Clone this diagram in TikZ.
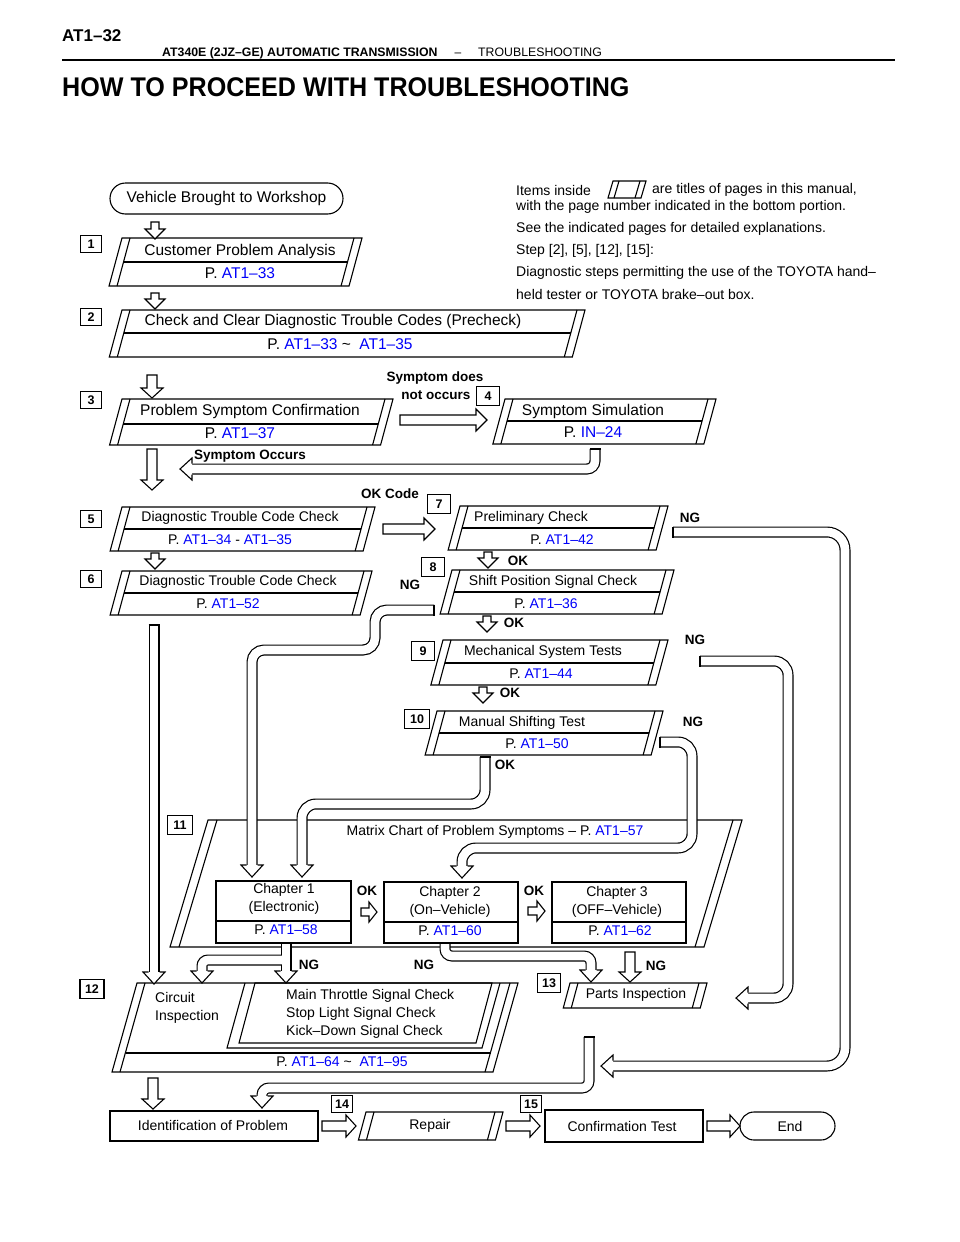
\documentclass[tikz,border=0pt]{standalone}
\usepackage{fontspec}
\setmainfont{Liberation Sans}
\definecolor{pblue}{RGB}{0,0,250}
\newcommand\pref[1]{\textcolor{pblue}{#1}}
% slanted step box: name, xl, xr, ytop, ybot, ydivider (0 = none)
\newcommand\pbox[6]{%
 \pgfmathsetmacro\pbS{0.27*(#5-#4)}%
 \draw[ln] (#2,#4) -- (#3,#4) -- ({#3-\pbS},#5) -- ({#2-\pbS},#5) -- cycle;
 \draw[ln] ({#2+8},#4) -- ({#2+8-\pbS},#5);
 \draw[ln] ({#3-8},#4) -- ({#3-8-\pbS},#5);
 \ifnum#6>0
 \pgfmathsetmacro\pbD{0.27*(#6-#4)}%
 \draw[ln] ({#2+8-\pbD},#6) -- ({#3-8-\pbD},#6);
 \fi
 \coordinate (#1) at ({(#2+#3)/2-\pbS/2},{(#4+#5)/2});
}
% hollow block arrows
\newcommand\dArrow[4]{% x, ytop, ybot, half shaft
 \draw[blk] ({#1-#4},#2) -- ({#1+#4},#2) -- ({#1+#4},{#3-10}) -- ({#1+#4+6},{#3-10}) -- (#1,#3) -- ({#1-#4-6},{#3-10}) -- ({#1-#4},{#3-10}) -- cycle;}
\newcommand\rArrow[5]{% xl, xr, y, half shaft, head length
 \draw[blk] (#1,{#3-#4}) -- ({#2-#5},{#3-#4}) -- ({#2-#5},{#3-#4-6}) -- (#2,#3) -- ({#2-#5},{#3+#4+6}) -- ({#2-#5},{#3+#4}) -- (#1,{#3+#4}) -- cycle;}
% pipe heads
\newcommand\pHeadD[2]{\draw[blk] ({#1-5.5},#2) -- ({#1-11},#2) -- (#1,{#2+12}) -- ({#1+11},#2) -- ({#1+5.5},#2);}
\newcommand\pHeadL[2]{\draw[blk] (#1,{#2-5.5}) -- (#1,{#2-11}) -- ({#1-12},#2) -- (#1,{#2+11}) -- (#1,{#2+5.5});}
\newcommand\pipe[2][10pt]{\draw[pipeout,rounded corners=#1] #2; \draw[pipein,rounded corners=#1] #2;}
\begin{document}
\begin{tikzpicture}[x=1pt,y=-1pt,
 ln/.style={line width=1.1pt, line join=miter},
 blk/.style={draw, fill=white, line width=1.1pt, line join=miter},
 pipeout/.style={line width=11pt, draw=black},
 pipein/.style={line width=8.6pt, draw=white},
 txt/.style={font=\fontsize{14}{18}\selectfont, inner sep=0pt},
 big/.style={font=\fontsize{15.5}{18}\selectfont, inner sep=0pt},
 lbl/.style={font={\bfseries\fontsize{13.5}{15}\selectfont}, inner sep=0pt},
 numbox/.style={draw, line width=1.3pt, font={\bfseries\fontsize{12.5}{13}\selectfont}, minimum width=21pt, minimum height=17pt, inner sep=0pt},
 chbox/.style={draw, line width=1.1pt}]
\fill[white] (0,0) rectangle (960,1242);
\useasboundingbox (0,0) rectangle (960,1242);

% ---------- header ----------
\node[anchor=west, inner sep=0pt, font={\bfseries\fontsize{17}{18}\selectfont}] (pg) at (62,36) {AT1–32};
\node[anchor=base west, inner sep=0pt, font={\bfseries\fontsize{12.3}{13}\selectfont}] (hd1) at (162,56.5) {AT340E (2JZ–GE) AUTOMATIC TRANSMISSION};
\node[anchor=base, inner sep=0pt, font=\fontsize{12}{13}\selectfont] (hd2) at (458,56.5) {–};
\node[anchor=base west, inner sep=0pt, font=\fontsize{12.3}{13}\selectfont] (hd3) at (478,56.5) {TROUBLESHOOTING};
\draw[line width=1.6pt] (62,60) -- (895,60);
\node[anchor=west, inner sep=0pt, font={\bfseries\fontsize{27}{30}\selectfont}] (title) at (62,87) {\scalebox{0.93}[1]{HOW TO PROCEED WITH TROUBLESHOOTING}};

% ---------- legend text ----------
\node[txt, anchor=west] (it1) at (516,190) {Items inside};
\draw[ln] (613,181) -- (646,181) -- (641,198) -- (608,198) -- cycle;
\draw[ln] (619,181) -- (614,198);
\draw[ln] (640,181) -- (635,198);
\node[txt, anchor=west] (it2) at (652,190) {are titles of pages in this manual,};
\node[txt, anchor=west] (it3) at (516,207) {with the page number indicated in the bottom portion.};
\node[txt, anchor=west] (it4) at (516,229) {See the indicated pages for detailed explanations.};
\node[txt, anchor=west] (it5) at (516,251) {Step [2], [5], [12], [15]:};
\node[txt, anchor=west] (it6) at (516,273) {Diagnostic steps permitting the use of the TOYOTA hand–};
\node[txt, anchor=west] (it7) at (516,294) {held tester or TOYOTA brake–out box.};

% ---------- start ----------
\node[draw, line width=1.1pt, rounded corners=15.5pt, minimum width=233pt, minimum height=31pt, big] (veh) at (226.5,198.5) {Vehicle Brought to Workshop};

% ---------- step boxes ----------
\pbox{s1}{122}{362}{238}{286}{262}
\pbox{s2}{122}{585}{310}{357}{333}
\pbox{s3}{122}{393}{399}{445}{424}
\pbox{s4}{505}{716}{399}{444}{421}
\pbox{s5}{122}{375}{507}{551}{529}
\pbox{s6}{122}{372}{571}{615}{593}
\pbox{s7}{460}{668}{506}{550}{528}
\pbox{s8}{452}{674}{570}{614}{592}
\pbox{s9}{443}{668}{640}{685}{663}
\pbox{s10}{437}{663}{711}{755}{733}
\pbox{s13}{570}{707}{983}{1008}{0}
\pbox{s14}{366}{503}{1112}{1140}{0}

% box 11
\draw[ln] (208,820) -- (742,820) -- (704,947) -- (170,947) -- cycle;
\draw[ln] (217,820) -- (179,947);
\draw[ln] (733,820) -- (695,947);
% chapter boxes
\draw[chbox] (216,881) rectangle (351,943); \draw[ln] (216,921) -- (351,921);
\draw[chbox] (384,882) rectangle (518,943); \draw[ln] (384,922) -- (518,922);
\draw[chbox] (552,882) rectangle (686,943); \draw[ln] (552,922) -- (686,922);

% box 12
\draw[ln] (137,983) -- (518,983) -- (493,1072) -- (112,1072) -- cycle;
\draw[ln] (145,983) -- (120,1072);
\draw[ln] (510,983) -- (485,1072);
\draw[ln] (125.5,1053) -- (490.5,1053);
\draw[ln] (245,983) -- (227,1048) -- (482,1048) -- (500,983);
\draw[ln] (255,983) -- (492,983) -- (476,1043) -- (239,1043) -- cycle;

% bottom row boxes
\draw[chbox] (110,1111) rectangle (318,1141);
\draw[chbox] (545,1110) rectangle (703,1142);
\draw[line width=1.1pt, rounded corners=14pt] (740,1112) rectangle (835,1140);

% ---------- block arrows ----------
\dArrow{155}{222}{239}{4}
\dArrow{155}{293}{309}{4}
\dArrow{152}{375}{398}{5}
\dArrow{152}{449}{490}{5}
\dArrow{155}{553}{569}{4}
\dArrow{488}{552}{568}{4}
\dArrow{487}{616}{632}{4}
\dArrow{483}{687}{703}{4}
\dArrow{630}{952}{982}{5}
\dArrow{153}{1078}{1109}{5}
\rArrow{400}{487}{420}{5}{11}
\rArrow{383}{435}{529}{5}{11}
\rArrow{361}{377}{912}{4}{8}
\rArrow{528}{545}{911}{4}{8}
\rArrow{322}{356}{1126}{5}{10}
\rArrow{506}{540}{1126}{5}{10}
\rArrow{707}{740}{1126}{5}{10}

% ---------- pipes ----------
% symptom occurs
\pipe[8pt]{(595,449) -- (595,469) -- (192,469)}
\draw[ln] (589.5,449) -- (600.5,449);
\pHeadL{192}{469}
% step 7 NG
\pipe[18pt]{(673,532) -- (845,532) -- (845,1066) -- (613,1066)}
\draw[ln] (673,526.5) -- (673,537.5);
\pHeadL{613}{1066}
% step 9 NG
\pipe[14pt]{(700,661) -- (788,661) -- (788,998) -- (748,998)}
\draw[ln] (700,655.5) -- (700,666.5);
\pHeadL{748}{998}
% step 10 NG
\pipe[14pt]{(660,742) -- (692,742) -- (692,848) -- (462,848) -- (462,866)}
\draw[ln] (660,736.5) -- (660,747.5);
\pHeadD{462}{866}
% step 8 NG
\pipe[12pt]{(434,610) -- (375,610) -- (375,650) -- (252,650) -- (252,865)}
\draw[ln] (434,604.5) -- (434,615.5);
\pHeadD{252}{865}
% step 10 OK
\pipe[14pt]{(485,757) -- (485,804) -- (302,804) -- (302,865)}
\draw[ln] (479.5,757) -- (490.5,757);
\pHeadD{302}{865}
% left long pipe
\pipe{(154,625) -- (154,972)}
\draw[ln] (148.5,625) -- (159.5,625);
\pHeadD{154}{972}
% chapter 1 NG
\draw[pipeout] (286,944) -- (286,971);
\draw[pipeout, rounded corners=6pt] (289,960) -- (202,960) -- (202,971);
\draw[pipein] (286,944) -- (286,971);
\draw[pipein, rounded corners=6pt] (289,960) -- (202,960) -- (202,971);
\pHeadD{286}{971}
\pHeadD{202}{971}
% chapter 2 NG
\pipe[7pt]{(445,944) -- (445,956) -- (591,956) -- (591,970)}
\pHeadD{591}{970}
% to identification
\pipe[7pt]{(589,1037) -- (589,1088) -- (262,1088) -- (262,1096)}
\draw[ln] (583.5,1037) -- (594.5,1037);
\pHeadD{262}{1096}

% ---------- number boxes ----------
\node[numbox] (n1) at (91,244) {1};
\node[numbox] (n2) at (91,317) {2};
\node[numbox] (n3) at (91,400) {3};
\node[numbox, minimum width=23pt, minimum height=19pt] (n4) at (488,396) {4};
\node[numbox] (n5) at (91,519) {5};
\node[numbox] (n6) at (91,579) {6};
\node[numbox, minimum width=23pt, minimum height=19pt] (n7) at (439,504) {7};
\node[numbox, minimum width=23pt, minimum height=19pt] (n8) at (433,567) {8};
\node[numbox, minimum width=23pt, minimum height=19pt] (n9) at (423,651) {9};
\node[numbox, minimum width=25pt, minimum height=19pt] (n10) at (417,719) {10};
\node[numbox, minimum width=25pt, minimum height=19pt] (n11) at (180,825) {11};
\node[numbox, minimum width=24pt, minimum height=19pt] (n12) at (92,989) {12};
\node[numbox, minimum width=23pt, minimum height=19pt] (n13) at (549,983) {13};
\node[numbox] (n14) at (342,1104) {14};
\node[numbox] (n15) at (531,1104) {15};

% ---------- step texts ----------
\node[big] (s1a) at (240,251) {Customer Problem Analysis};
\node[big] (s1b) at (240,273) {P. \pref{AT1–33}};
\node[big] (s2a) at (333,321) {Check and Clear Diagnostic Trouble Codes (Precheck)};
\node[big] (s2b) at (340,344) {P. \pref{AT1–33} \textasciitilde\ \ \pref{AT1–35}};
\node[big] (s3a) at (250,411) {Problem Symptom Confirmation};
\node[big] (s3b) at (240,433) {P. \pref{AT1–37}};
\node[big] (s4a) at (593,411) {Symptom Simulation};
\node[big] (s4b) at (593,432) {P. \pref{IN–24}};
\node[txt] (s5a) at (240,518) {Diagnostic Trouble Code Check};
\node[txt] (s5b) at (230,540) {P. \pref{AT1–34} - \pref{AT1–35}};
\node[txt] (s6a) at (238,582) {Diagnostic Trouble Code Check};
\node[txt] (s6b) at (228,604) {P. \pref{AT1–52}};
\node[txt] (s7a) at (531,518) {Preliminary Check};
\node[txt] (s7b) at (562,540) {P. \pref{AT1–42}};
\node[txt] (s8a) at (553,582) {Shift Position Signal Check};
\node[txt] (s8b) at (546,604) {P. \pref{AT1–36}};
\node[txt] (s9a) at (543,652) {Mechanical System Tests};
\node[txt] (s9b) at (541,674) {P. \pref{AT1–44}};
\node[txt] (s10a) at (522,723) {Manual Shifting Test};
\node[txt] (s10b) at (537,744) {P. \pref{AT1–50}};
\node[txt] (s11) at (495,832) {Matrix Chart of Problem Symptoms – P. \pref{AT1–57}};
\node[txt, align=center] (c1a) at (284,899) {Chapter 1\\(Electronic)};
\node[txt] (c1b) at (286,930) {P. \pref{AT1–58}};
\node[txt, align=center] (c2a) at (450,902) {Chapter 2\\(On–Vehicle)};
\node[txt] (c2b) at (450,931) {P. \pref{AT1–60}};
\node[txt, align=center] (c3a) at (617,902) {Chapter 3\\(OFF–Vehicle)};
\node[txt] (c3b) at (620,931) {P. \pref{AT1–62}};
\node[txt, anchor=west, align=left] (s12a) at (155,1008) {Circuit\\Inspection};
\node[txt, anchor=west, align=left] (s12b) at (286,1014) {Main Throttle Signal Check\\Stop Light Signal Check\\Kick–Down Signal Check};
\node[txt] (s12c) at (342,1062) {P. \pref{AT1–64} \textasciitilde\ \ \pref{AT1–95}};
\node[txt] (s13a) at (636,995) {Parts Inspection};
\node[txt] (idp) at (213,1125) {Identification of Problem};
\node[txt] (rep) at (430,1126) {Repair};
\node[txt] (cft) at (622,1126) {Confirmation Test};
\node[txt] (endn) at (790,1126) {End};

% ---------- bold labels ----------
\node[lbl] (l1) at (435,378) {Symptom does};
\node[lbl] (l2) at (436,395) {not occurs};
\node[lbl] (l3) at (250,456) {Symptom Occurs};
\node[lbl] (l4) at (390,494) {OK Code};
\node[lbl] (l5) at (690,518) {NG};
\node[lbl] (l6) at (518,561) {OK};
\node[lbl] (l7) at (410,585) {NG};
\node[lbl] (l8) at (514,623) {OK};
\node[lbl] (l9) at (695,640) {NG};
\node[lbl] (l10) at (510,693) {OK};
\node[lbl] (l11) at (693,722) {NG};
\node[lbl] (l12) at (505,765) {OK};
\node[lbl] (l13) at (367,891) {OK};
\node[lbl] (l14) at (534,891) {OK};
\node[lbl] (l15) at (309,965) {NG};
\node[lbl] (l16) at (424,965) {NG};
\node[lbl] (l17) at (656,966) {NG};
\end{tikzpicture}
\end{document}
